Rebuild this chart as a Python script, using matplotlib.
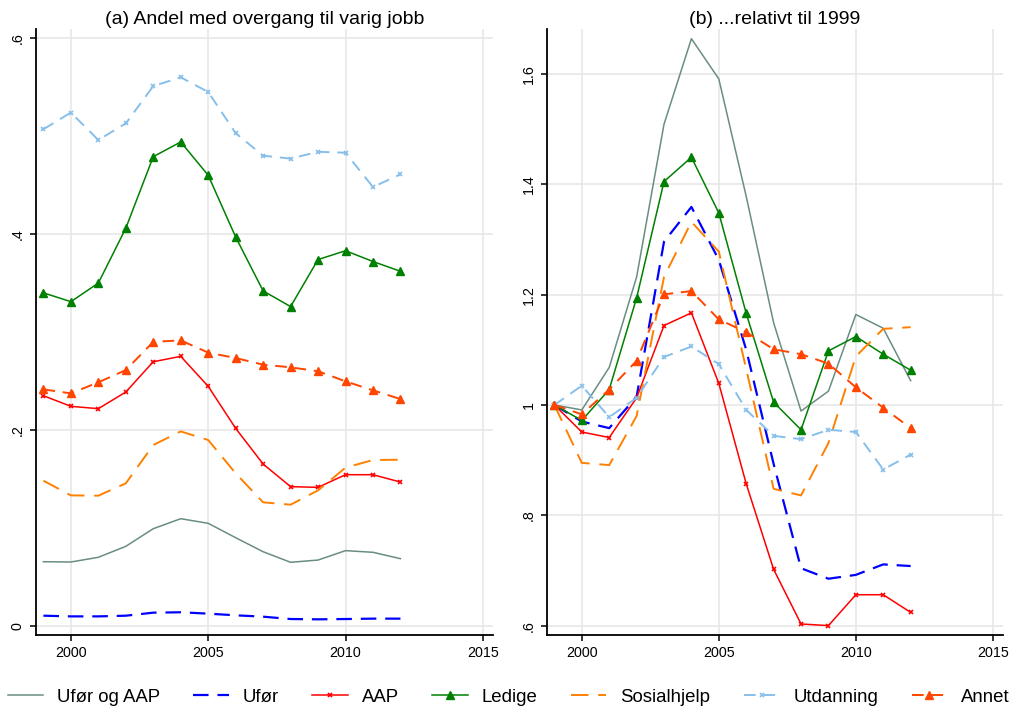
import matplotlib
matplotlib.use("Agg")
import matplotlib.pyplot as plt
from matplotlib.lines import Line2D

plt.rcParams['font.family'] = ['Liberation Sans', 'DejaVu Sans']

years = list(range(1999, 2013))

# Panel (a): share with transition to permanent job
ufor_aap = [0.0656, 0.0653, 0.0701, 0.0813, 0.0993, 0.1095, 0.1048, 0.0901, 0.0758, 0.0650, 0.0673, 0.0769, 0.0752, 0.0687]
ufor = [0.0105, 0.0098, 0.0098, 0.0105, 0.0136, 0.0140, 0.0126, 0.0109, 0.0095, 0.0071, 0.0068, 0.0071, 0.0075, 0.0075]
aap = [0.235, 0.2242, 0.2218, 0.2388, 0.2697, 0.2752, 0.2446, 0.2017, 0.1653, 0.1422, 0.1415, 0.1544, 0.1544, 0.1469]
ledige = [0.340, 0.331, 0.350, 0.406, 0.479, 0.494, 0.460, 0.397, 0.342, 0.326, 0.374, 0.383, 0.372, 0.362]
sosialhjelp = [0.1483, 0.1333, 0.1330, 0.1456, 0.1847, 0.1986, 0.1898, 0.1558, 0.1262, 0.1238, 0.1384, 0.1616, 0.1694, 0.1697]
utdanning = [0.507, 0.524, 0.496, 0.513, 0.551, 0.560, 0.545, 0.503, 0.480, 0.477, 0.484, 0.483, 0.448, 0.461]
annet = [0.2415, 0.2374, 0.2487, 0.2612, 0.290, 0.2915, 0.279, 0.2735, 0.2667, 0.264, 0.260, 0.2497, 0.2405, 0.2316]

# Panel (b): relative to 1999
r_ufor_aap = [1, 0.991, 1.068, 1.232, 1.509, 1.664, 1.591, 1.378, 1.149, 0.989, 1.025, 1.164, 1.139, 1.044]
r_ufor = [1, 0.970, 0.958, 1.015, 1.296, 1.359, 1.263, 1.100, 0.893, 0.704, 0.685, 0.692, 0.711, 0.708]
r_aap = [1, 0.951, 0.941, 1.013, 1.144, 1.167, 1.039, 0.857, 0.702, 0.603, 0.600, 0.656, 0.656, 0.624]
r_ledige = [1, 0.972, 1.028, 1.194, 1.405, 1.449, 1.348, 1.166, 1.005, 0.955, 1.098, 1.124, 1.092, 1.063]
r_sosialhjelp = [1, 0.895, 0.891, 0.980, 1.232, 1.332, 1.278, 1.065, 0.848, 0.836, 0.931, 1.088, 1.138, 1.141]
r_utdanning = [1, 1.035, 0.978, 1.013, 1.087, 1.106, 1.074, 0.991, 0.944, 0.938, 0.955, 0.951, 0.883, 0.910]
r_annet = [1, 0.983, 1.028, 1.080, 1.2005, 1.2065, 1.155, 1.132, 1.101, 1.092, 1.075, 1.032, 0.995, 0.958]

labels = ["Ufør og AAP", "Ufør", "AAP", "Ledige", "Sosialhjelp", "Utdanning", "Annet"]
x_ticks = [2000, 2005, 2010, 2015]
left_yticks = [0, 0.2, 0.4, 0.6]
left_yticklabels = ["0", ".2", ".4", ".6"]
right_yticks = [0.6, 0.8, 1.0, 1.2, 1.4, 1.6]
right_yticklabels = [".6", ".8", "1", "1.2", "1.4", "1.6"]

styles = [
    dict(color="#6a8d82", lw=1.1, ls="-"),
    dict(color="#0000ff", lw=1.6, ls=(0, (7, 4))),
    dict(color="#ff0000", lw=1.1, ls="-", marker="x", ms=3.5, mew=1.2),
    dict(color="#008000", lw=1.1, ls="-", marker="^", ms=5.5),
    dict(color="#ff8000", lw=1.4, ls=(0, (9, 5))),
    dict(color="#87bfeb", lw=1.4, ls=(0, (6, 4)), marker="x", ms=3.5, mew=1.2),
    dict(color="#ff4500", lw=1.4, ls=(0, (6, 4)), marker="^", ms=5.5),
]

fig = plt.figure(figsize=(10.11, 7.10), dpi=100)
axL = fig.add_axes([36/1011, 1-635/710, (493-36)/1011, (635-29.3)/710])
axR = fig.add_axes([547/1011, 1-635/710, (1003-547)/1011, (635-29.3)/710])

left_series = [ufor_aap, ufor, aap, ledige, sosialhjelp, utdanning, annet]
right_series = [r_ufor_aap, r_ufor, r_aap, r_ledige, r_sosialhjelp, r_utdanning, r_annet]

for ax, series in ((axL, left_series), (axR, right_series)):
    for s, st, lab in zip(series, styles, labels):
        ax.plot(years, s, label=lab, **st)
    ax.set_xticks(x_ticks)
    ax.set_xlim(1998.73, 2015.37)
    ax.grid(True, color="#e6e6e6", lw=1.1)
    ax.set_axisbelow(True)
    for sp in ("top", "right"):
        ax.spines[sp].set_visible(False)
    for sp in ("left", "bottom"):
        ax.spines[sp].set_color("black")
        ax.spines[sp].set_linewidth(1.3)
    ax.tick_params(axis="both", length=4.5, width=1.1, labelsize=10.3, colors="black")
    ax.tick_params(axis="x", pad=3.5)

axL.set_ylim(-0.0092, 0.609)
axL.set_yticks(left_yticks)
axL.set_yticklabels(left_yticklabels, rotation=90, va="center")
axR.set_ylim(0.583, 1.681)
axR.set_yticks(right_yticks)
axR.set_yticklabels(right_yticklabels, rotation=90, va="center")

axL.set_title("(a) Andel med overgang til varig jobb", fontsize=14, pad=4)
axR.set_title("(b) ...relativt til 1999", fontsize=14, pad=4)

handles = [Line2D([], [], **st) for st in styles]
fig.legend(handles, labels, loc="center", bbox_to_anchor=(0.503, 1-697/710), ncol=7,
           frameon=False, fontsize=13.4, handlelength=1.9, columnspacing=1.8,
           handletextpad=0.75, borderpad=0.1, borderaxespad=0)

fig.savefig("out.png", dpi=100)
